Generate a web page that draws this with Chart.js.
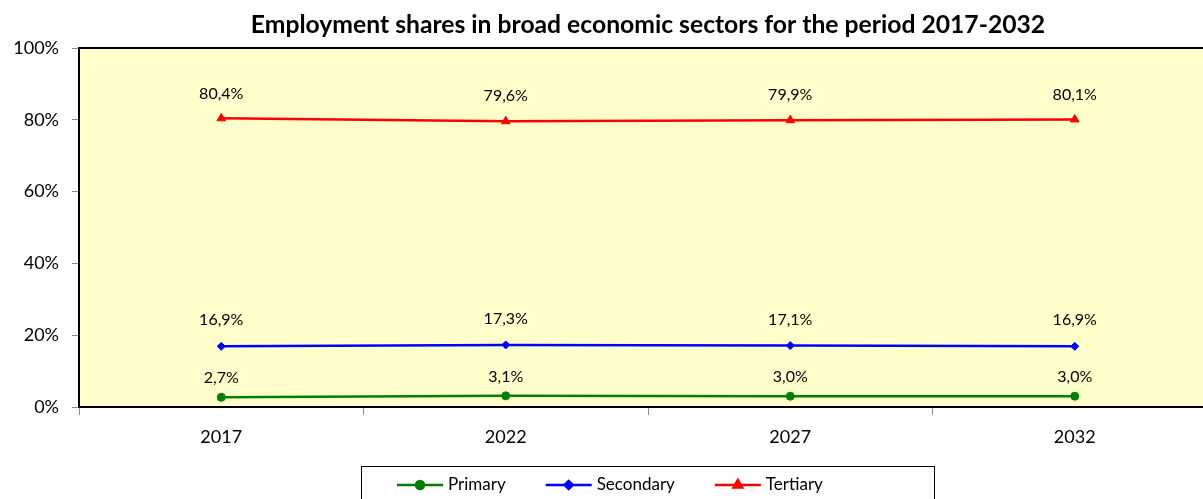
<!DOCTYPE html>
<html>
<head>
<meta charset="utf-8">
<script src="https://cdn.jsdelivr.net/npm/chart.js@4"></script>
<style>
  html, body { margin: 0; padding: 0; overflow: hidden; background: #fff; }
  canvas { display: block; }
</style>
</head>
<body>
<canvas id="sectors" width="1240" height="499"></canvas>
<script>
const years = ["2017", "2022", "2027", "2032"];
const primary = [2.7, 3.1, 3.0, 3.0];
const secondary = [16.9, 17.3, 17.1, 16.9];
const tertiary = [80.4, 79.6, 79.9, 80.1];
const yTicks = [0, 20, 40, 60, 80, 100];
const chartTitle = 'Employment shares in broad economic sectors for the period 2017-2032';

const FONT = "Lato, 'Noto Sans', sans-serif";

// yellow plot background + black frame, title centred on the plot area
const plotFrame = {
    id: 'plotFrame',
    beforeDraw(chart) {
        const { ctx, chartArea: a } = chart;
        ctx.save();
        ctx.fillStyle = '#FFFFCC';
        ctx.fillRect(a.left, a.top, a.right - a.left, a.bottom - a.top);
        ctx.restore();
    },
    afterDraw(chart) {
        const { ctx, chartArea: a } = chart;
        ctx.save();
        ctx.strokeStyle = '#000';
        ctx.lineWidth = 2;
        ctx.strokeRect(a.left, a.top, a.right - a.left, a.bottom - a.top);
        ctx.font = 'bold 24.7px ' + FONT;
        ctx.fillStyle = '#000';
        ctx.textAlign = 'center';
        ctx.textBaseline = 'middle';
        ctx.fillText(chartTitle, (a.left + a.right) / 2, a.top - 23);
        ctx.restore();
    }
};

// value labels above each point, "80,4%"
const pointLabels = {
    id: 'pointLabels',
    afterDatasetsDraw(chart) {
        const ctx = chart.ctx;
        ctx.save();
        ctx.font = '16px ' + FONT;
        ctx.fillStyle = '#000';
        ctx.textAlign = 'center';
        ctx.textBaseline = 'middle';
        chart.data.datasets.forEach((ds, i) => {
            chart.getDatasetMeta(i).data.forEach((pt, j) => {
                const txt = ds.data[j].toFixed(1).replace('.', ',') + '%';
                ctx.fillText(txt, pt.x, pt.y - ds.labelOffset);
            });
        });
        ctx.restore();
    }
};

// boxed legend under the axis: line + marker + name
const boxLegend = {
    id: 'boxLegend',
    afterDraw(chart) {
        const { ctx, chartArea: a } = chart;
        const sample = 46, gapText = 5, gapItem = 40;
        ctx.save();
        ctx.font = '17px ' + FONT;
        const cx = (a.left + a.right) / 2;
        const boxTop = a.bottom + 59;
        const cy = boxTop + 19;
        ctx.strokeStyle = '#000';
        ctx.lineWidth = 1;
        ctx.strokeRect(Math.round(cx - 287) + 0.5, boxTop + 0.5, 573, 60);
        let x = cx - 251;
        chart.data.datasets.forEach(ds => {
            ctx.strokeStyle = ds.borderColor;
            ctx.lineWidth = ds.borderWidth;
            ctx.beginPath();
            ctx.moveTo(x, cy);
            ctx.lineTo(x + sample, cy);
            ctx.stroke();
            ctx.fillStyle = ds.borderColor;
            ctx.strokeStyle = ds.borderColor;
            Chart.helpers.drawPoint(ctx, {
                pointStyle: ds.pointStyle, radius: ds.pointRadius, borderWidth: 1, rotation: 0
            }, x + sample / 2, cy);
            ctx.fillStyle = '#000';
            ctx.textAlign = 'left';
            ctx.textBaseline = 'middle';
            ctx.fillText(ds.label, x + sample + gapText, cy);
            x += sample + gapText + ctx.measureText(ds.label).width + gapItem;
        });
        ctx.restore();
    }
};

function series(label, data, color, style, radius, labelOffset) {
    return {
        label, data,
        borderColor: color, backgroundColor: color,
        pointBackgroundColor: color, pointBorderColor: color,
        borderWidth: 2.5, pointStyle: style, pointRadius: radius,
        pointBorderWidth: 1, pointHoverRadius: radius, tension: 0, labelOffset
    };
}

new Chart(document.getElementById('sectors'), {
    type: 'line',
    data: {
        labels: years,
        datasets: [
            series('Primary', primary, '#008000', 'circle', 4, 19),
            series('Secondary', secondary, '#0000FF', 'rectRot', 4, 26),
            series('Tertiary', tertiary, '#FF0000', 'triangle', 5, 25)
        ]
    },
    options: {
        responsive: false,
        devicePixelRatio: 1,
        animation: false,
        layout: { padding: { left: 0, right: 23, top: 48, bottom: 0 } },
        plugins: {
            legend: { display: false },
            tooltip: { enabled: false },
            title: { display: false }
        },
        scales: {
            x: {
                offset: true,
                grid: { offset: true, drawOnChartArea: false, drawTicks: true, tickLength: 8, color: '#888' },
                border: { display: true, color: '#000', width: 2 },
                ticks: { color: '#000', font: { family: FONT, size: 18 }, padding: 11 },
                afterFit(scale) { scale.height = 92; }
            },
            y: {
                min: yTicks[0], max: yTicks[yTicks.length - 1],
                afterBuildTicks(scale) { scale.ticks = yTicks.map(v => ({ value: v })); },
                grid: { drawOnChartArea: false, drawTicks: true, tickLength: 7, color: '#888' },
                border: { display: true, color: '#000', width: 2 },
                ticks: { color: '#000', font: { family: FONT, size: 18 }, padding: 13, callback: v => v + '%' },
                afterFit(scale) { scale.width = 79; }
            }
        }
    },
    plugins: [plotFrame, pointLabels, boxLegend]
});
</script>
</body>
</html>
